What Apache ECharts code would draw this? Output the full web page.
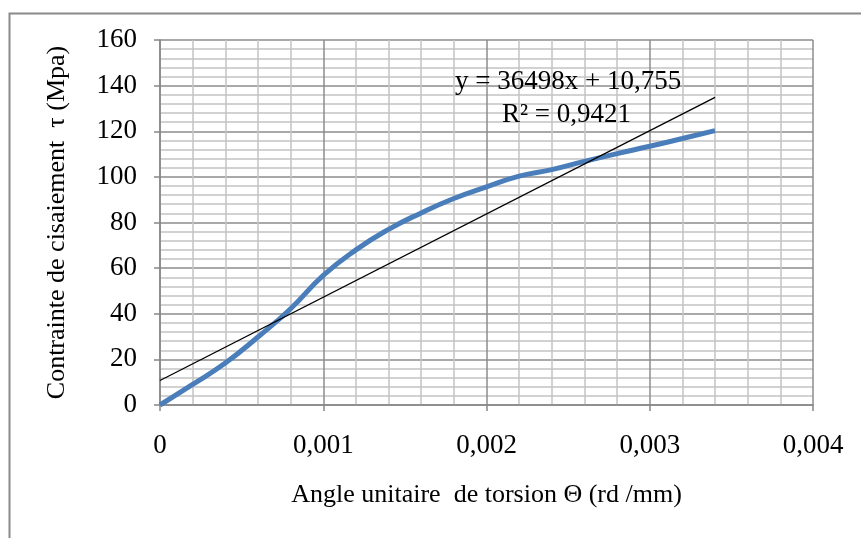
<!DOCTYPE html>
<html>
<head>
<meta charset="utf-8">
<script src="https://cdn.jsdelivr.net/npm/echarts@6/dist/echarts.min.js"></script>
<style>
  html, body { margin: 0; padding: 0; background: #fff; }
  #chart { width: 861px; height: 538px; }
</style>
</head>
<body>
<div id="chart"></div>
<script>
// angle unitaire (rd/mm) et contrainte (MPa)
var angle = [0, 0.0002, 0.0004, 0.0006, 0.0008, 0.001, 0.0012, 0.0014, 0.0016, 0.0018,
             0.002, 0.0022, 0.0024, 0.0026, 0.0028, 0.003, 0.0032, 0.0034];
var contrainte = [0, 9, 18.4, 29.8, 42.2, 56.8, 68, 77, 84.2, 90.5,
                  95.6, 100.3, 103.2, 106.8, 110.2, 113.4, 116.8, 120.3];
// courbe de tendance (extrémités)
var trendX = [0, 0.0034];
var trendY = [10.755, 134.85];
var equation = 'y = 36498x + 10,755';
var r2 = 'R² = 0,9421';

var font = '"Liberation Serif", "Times New Roman", serif';

var mesures = angle.map(function (x, i) { return [x, contrainte[i]]; });
var tendance = trendX.map(function (x, i) { return [x, trendY[i]]; });

var myChart = echarts.init(document.getElementById('chart'));
var option = {
    animation: false,
    backgroundColor: '#fff',
    textStyle: { fontFamily: font },
    grid: { left: 160, right: 48, top: 40, bottom: 133 },
    xAxis: {
        type: 'value',
        min: 0,
        max: 0.004,
        interval: 0.001,
        name: 'Angle unitaire  de torsion \u0398 (rd /mm)',
        nameLocation: 'middle',
        nameGap: 77,
        nameTextStyle: { fontFamily: font, fontSize: 26, color: '#000' },
        axisLine: { show: true, lineStyle: { color: '#868686', width: 1.5 } },
        axisTick: { show: true, inside: false, length: 6, lineStyle: { color: '#868686', width: 1.5 } },
        axisLabel: {
            fontFamily: font, fontSize: 27, color: '#000', margin: 27,
            formatter: function (v) { return v === 0 ? '0' : v.toFixed(3).replace('.', ','); }
        },
        splitLine: { show: true, lineStyle: { color: '#8c8c8c', width: 1.5 } },
        minorTick: { show: false, splitNumber: 5 },
        minorSplitLine: { show: true, lineStyle: { color: '#c4c4c4', width: 1.5 } }
    },
    yAxis: {
        type: 'value',
        min: 0,
        max: 160,
        interval: 20,
        name: 'Contrainte de cisaiement  \u03c4 (Mpa)',
        nameLocation: 'middle',
        nameGap: 90,
        nameRotate: 90,
        nameTextStyle: { fontFamily: font, fontSize: 26, color: '#000' },
        axisLine: { show: true, lineStyle: { color: '#868686', width: 1.5 } },
        axisTick: { show: true, inside: false, length: 6, lineStyle: { color: '#868686', width: 1.5 } },
        axisLabel: { fontFamily: font, fontSize: 27, color: '#000', margin: 23 },
        splitLine: { show: true, lineStyle: { color: '#8c8c8c', width: 1.5 } },
        minorTick: { show: false, splitNumber: 5 },
        minorSplitLine: { show: true, lineStyle: { color: '#c4c4c4', width: 1.5 } }
    },
    graphic: [
        {
            type: 'rect',
            left: 7, top: 11,
            shape: { width: 900, height: 600 },
            style: { fill: 'none', stroke: '#8a8a8a', lineWidth: 2 },
            z: 100
        },
        {
            type: 'text',
            left: 455, top: 68,
            style: { text: equation, font: '27px ' + font, fill: '#000' },
            z: 100
        },
        {
            type: 'text',
            left: 502, top: 101,
            style: { text: r2, font: '27px ' + font, fill: '#000' },
            z: 100
        }
    ],
    series: [
        {
            name: 'mesures',
            type: 'line',
            data: mesures,
            smooth: true,
            showSymbol: false,
            lineStyle: { color: '#4a7ebb', width: 5 },
            z: 3
        },
        {
            name: 'tendance',
            type: 'line',
            data: tendance,
            showSymbol: false,
            lineStyle: { color: '#000', width: 1.3 },
            z: 4
        }
    ]
};
myChart.setOption(option);
</script>
</body>
</html>
